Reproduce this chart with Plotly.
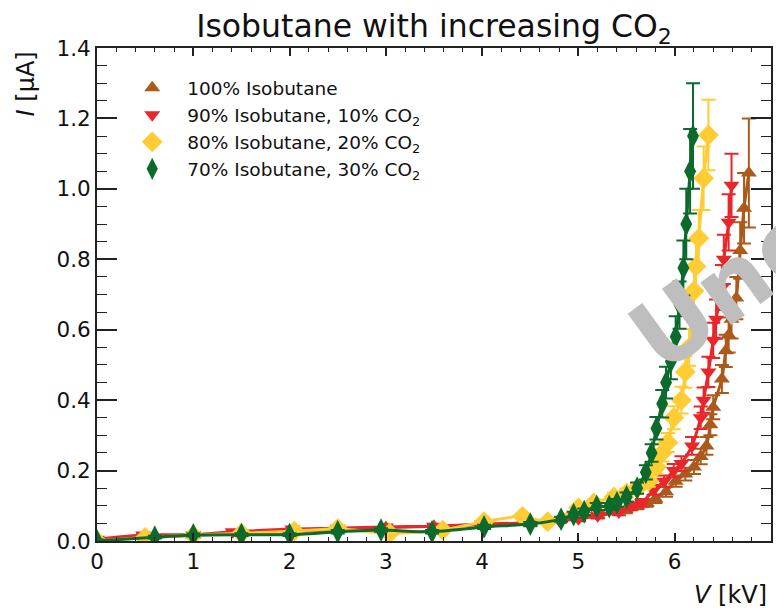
import plotly.graph_objects as go

# Current I [uA] versus voltage V [kV] for four gas mixtures
v_100 = [0.0, 0.5, 1.0, 1.5, 2.0, 2.5, 3.0, 3.5, 4.0, 4.5, 4.8, 5.0, 5.2, 5.39, 5.49, 5.61, 5.71,
         5.80, 5.91, 6.01, 6.11, 6.20, 6.27, 6.33, 6.37, 6.40, 6.49, 6.53, 6.56, 6.59, 6.64, 6.68, 6.72, 6.77]
i_100 = [0.004, 0.010, 0.016, 0.022, 0.026, 0.032, 0.038, 0.042, 0.046, 0.052, 0.058, 0.064, 0.074, 0.085,
         0.088, 0.10, 0.108, 0.12, 0.14, 0.17, 0.19, 0.21, 0.24, 0.27, 0.33, 0.38, 0.46, 0.54, 0.585, 0.63,
         0.69, 0.825, 0.945, 1.045]
e_100 = [0.004, 0.004, 0.004, 0.004, 0.005, 0.005, 0.005, 0.005, 0.006, 0.006, 0.006, 0.007, 0.008, 0.009,
         0.009, 0.010, 0.011, 0.012, 0.014, 0.016, 0.018, 0.02, 0.022, 0.025, 0.03, 0.034, 0.04, 0.046, 0.05,
         0.055, 0.06, 0.08, 0.1, 0.155]

v_90 = [0.0, 0.48, 1.0, 1.41, 2.03, 2.5, 3.0, 3.5, 4.0, 4.5, 4.8, 5.0, 5.2, 5.42, 5.55, 5.66, 5.78, 5.89,
        5.99, 6.07, 6.18, 6.27, 6.30, 6.35, 6.40, 6.43, 6.49, 6.51, 6.56, 6.59]
i_90 = [0.005, 0.017, 0.018, 0.026, 0.034, 0.036, 0.040, 0.042, 0.048, 0.052, 0.058, 0.063, 0.072, 0.082,
        0.097, 0.108, 0.145, 0.17, 0.20, 0.22, 0.27, 0.35, 0.40, 0.48, 0.57, 0.63, 0.72, 0.80, 0.905, 1.01]
e_90 = [0.004, 0.004, 0.004, 0.004, 0.005, 0.005, 0.005, 0.005, 0.006, 0.006, 0.006, 0.007, 0.008, 0.009,
        0.010, 0.011, 0.014, 0.016, 0.019, 0.021, 0.025, 0.032, 0.036, 0.043, 0.05, 0.056, 0.064, 0.07, 0.08, 0.09]

v_80 = [0.0, 0.5, 1.0, 1.5, 2.05, 2.5, 3.04, 3.59, 4.02, 4.42, 4.68, 5.0, 5.16, 5.37, 5.5, 5.61, 5.73, 5.81,
        5.87, 5.93, 5.99, 6.07, 6.11, 6.15, 6.20, 6.22, 6.25, 6.30, 6.35]
i_80 = [0.0, 0.010, 0.016, 0.022, 0.028, 0.035, 0.022, 0.031, 0.055, 0.070, 0.055, 0.094, 0.108, 0.125,
        0.136, 0.150, 0.170, 0.21, 0.25, 0.28, 0.35, 0.40, 0.48, 0.55, 0.71, 0.78, 0.86, 1.03, 1.153]
e_80 = [0.004, 0.004, 0.004, 0.004, 0.005, 0.005, 0.005, 0.005, 0.006, 0.007, 0.006, 0.009, 0.010, 0.012,
        0.013, 0.014, 0.016, 0.02, 0.024, 0.027, 0.033, 0.038, 0.045, 0.052, 0.066, 0.072, 0.08, 0.09, 0.10]

v_70 = [0.0, 0.6, 1.0, 1.5, 2.0, 2.5, 2.95, 3.48, 4.02, 4.5, 4.82, 4.95, 5.06, 5.19, 5.32, 5.4, 5.5, 5.61,
        5.7, 5.76, 5.81, 5.87, 5.91, 5.96, 6.01, 6.05, 6.09, 6.12, 6.16, 6.19]
i_70 = [0.0, 0.011, 0.017, 0.018, 0.018, 0.026, 0.031, 0.026, 0.040, 0.048, 0.062, 0.075, 0.083, 0.098,
        0.098, 0.108, 0.125, 0.150, 0.195, 0.25, 0.32, 0.39, 0.45, 0.51, 0.58, 0.67, 0.775, 0.90, 1.05, 1.15]
e_70 = [0.004, 0.004, 0.004, 0.004, 0.004, 0.005, 0.005, 0.005, 0.006, 0.006, 0.007, 0.008, 0.009, 0.010,
        0.010, 0.011, 0.013, 0.016, 0.020, 0.025, 0.032, 0.039, 0.045, 0.051, 0.058, 0.067, 0.078, 0.10, 0.12, 0.15]

labels = ["100% Isobutane",
          "90% Isobutane, 10% CO<sub>2</sub>",
          "80% Isobutane, 20% CO<sub>2</sub>",
          "70% Isobutane, 30% CO<sub>2</sub>"]
colors = ["#AC5A1C", "#E8262B", "#FFCC33", "#0C6B2C"]
symbols = ["triangle-up", "triangle-down", "diamond", "diamond-tall"]
sizes = [14, 14, 16, 17]

series = [(v_100, i_100, e_100), (v_90, i_90, e_90), (v_80, i_80, e_80), (v_70, i_70, e_70)]

FONT = "DejaVu Sans, Verdana, sans-serif"
INK = "#111111"

fig = go.Figure()
for (v, cur, err), name, col, sym, sz in zip(series, labels, colors, symbols, sizes):
    # smooth curve through the measurements, drawn under the markers
    fig.add_trace(go.Scatter(
        x=v, y=cur, mode="lines", showlegend=False, hoverinfo="skip",
        line=dict(color=col, width=3, shape="spline", smoothing=0.6)))
    fig.add_trace(go.Scatter(
        x=v, y=cur, mode="markers", name=name,
        marker=dict(symbol=sym, size=sz, color=col, line=dict(width=0)),
        error_y=dict(type="data", array=err, color=col, thickness=2, width=7)))

axis_common = dict(
    showgrid=False, zeroline=False, showline=True, linecolor="#222222", linewidth=2,
    mirror="allticks", ticks="inside", tickcolor="#222222", tickwidth=1.5,
    tickfont=dict(family=FONT, size=21.5, color=INK),
)

fig.update_xaxes(range=[0, 7], dtick=1, ticklen=8,
                 minor=dict(dtick=0.2, ticks="inside", ticklen=4, tickcolor="#222222", tickwidth=1.2),
                 **axis_common)
fig.update_yaxes(range=[0, 1.4], dtick=0.2, tickformat=".1f", ticklen=20,
                 minor=dict(dtick=0.05, ticks="inside", ticklen=10, tickcolor="#222222", tickwidth=1.2),
                 **axis_common)

fig.update_layout(
    width=776, height=616, autosize=False,
    margin=dict(l=97, r=3, t=48, b=75),
    plot_bgcolor="white", paper_bgcolor="white",
    font=dict(family=FONT, color=INK),
    title=dict(text="Isobutane with increasing CO<sub>2</sub>", x=0.5, xref="paper", xanchor="center",
               y=0.958, yanchor="middle", font=dict(family=FONT, size=31.5, color=INK)),
    legend=dict(x=0.03, y=0.957, xanchor="left", yanchor="top", bgcolor="rgba(0,0,0,0)",
                font=dict(family=FONT, size=18.5, color=INK), itemwidth=60,
                tracegroupgap=0),
    annotations=[
        dict(text="<i>I</i> [µA]", xref="paper", yref="paper", x=-0.104, y=0.998,
             xanchor="center", yanchor="top", textangle=-90, showarrow=False,
             font=dict(family=FONT, size=24, color=INK)),
        dict(text="<i>V</i> [kV]", xref="paper", yref="paper", x=0.997, y=-0.11,
             xanchor="right", yanchor="middle", showarrow=False,
             font=dict(family=FONT, size=24, color=INK)),
        # grey stamp running off the right edge, over the curves
        dict(text="<b>Unc</b>", xref="x", yref="y", x=6.52, y=0.715, textangle=-36,
             showarrow=False, font=dict(family=FONT, size=96, color="#BEBEBE")),
    ],
)

fig.write_html("out.html")
